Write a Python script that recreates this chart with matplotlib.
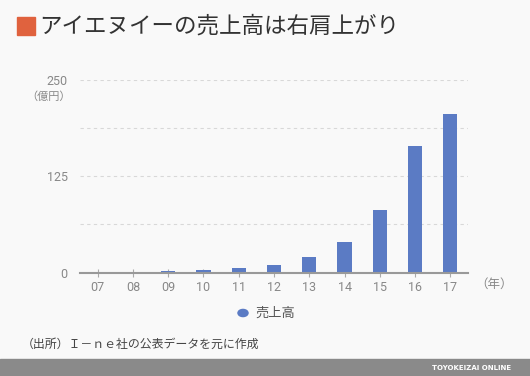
import numpy as np
import matplotlib.pyplot as plt
from matplotlib.patches import Rectangle

plt.rcParams['font.family'] = ['Noto Sans CJK JP', 'DejaVu Sans']

years = ["07", "08", "09", "10", "11", "12", "13", "14", "15", "16", "17"]
sales = [0, 0, 2.5, 4, 5.5, 9.5, 20, 40, 81, 164.5, 206.5]

bg = "#f9f9f9"
bar_color = "#5b7bc4"
grey = "#888888"

fig = plt.figure(figsize=(5.3, 3.76), dpi=100, facecolor=bg)
ax = fig.add_axes([0.151, 0.275, 0.732, 0.512], facecolor=bg)

x = np.arange(len(years))
ax.bar(x, sales, width=0.4, color=bar_color, zorder=3)

ax.set_xlim(-0.5, len(years) - 0.5)
ax.set_ylim(0, 250)
ax.set_yticks([0, 125, 250])
ax.set_yticks([62.5, 187.5], minor=True)
ax.set_xticks(x)
ax.set_xticklabels(years)
for lab in ax.get_xticklabels() + ax.get_yticklabels():
    lab.set_family("Roboto")

ax.grid(axis="y", which="both", linestyle=(0, (3, 3)), color="#d8d8d8", linewidth=0.8, zorder=0)
for s in ["top", "right", "left"]:
    ax.spines[s].set_visible(False)
ax.spines["bottom"].set_color("#999999")
ax.spines["bottom"].set_linewidth(1.5)
ax.spines["bottom"].set_zorder(4)

ax.tick_params(axis="y", which="both", length=0, labelsize=9, labelcolor=grey, pad=9)
ax.tick_params(axis="x", length=6, direction="inout", color="#aaaaaa", width=0.8,
               labelsize=9, labelcolor=grey, pad=3)

fig.text(71 / 530, 1 - 97 / 376, "（億円）", ha="right", va="center", fontsize=8, color=grey)
fig.text(494 / 530, 1 - 284 / 376, "（年）", ha="center", va="center", fontsize=9, color=grey)

# legend
fig.patches.append(plt.Circle((243 / 530, 1 - 313 / 376), 0.0095, transform=fig.transFigure,
                              color=bar_color, figure=fig))
fig.text(255 / 530, 1 - 313 / 376, "売上高", ha="left", va="center", fontsize=9.5, color="#555555")

# title
fig.patches.append(Rectangle((17 / 530, 1 - 35 / 376), 18 / 530, 18 / 376,
                             transform=fig.transFigure, color="#e0623e", figure=fig))
fig.text(39 / 530, 1 - 26 / 376, "アイエヌイーの売上高は右肩上がり", ha="left", va="center",
         fontsize=16.2, color="#333333")

# source
fig.text(22 / 530, 1 - 344 / 376, "（出所）Ｉ－ｎｅ社の公表データを元に作成", ha="left", va="center",
         fontsize=8.6, color="#444444")

# footer band
fig.patches.append(Rectangle((0, 0), 1, 17 / 376, transform=fig.transFigure,
                             color="#8a8a8a", figure=fig))
fig.text(511 / 530, 8.5 / 376, "TOYOKEIZAI ONLINE", ha="right", va="center",
         fontsize=5, color="white", fontweight="bold", family="DejaVu Sans")

fig.savefig("out.png", dpi=100, facecolor=bg)
